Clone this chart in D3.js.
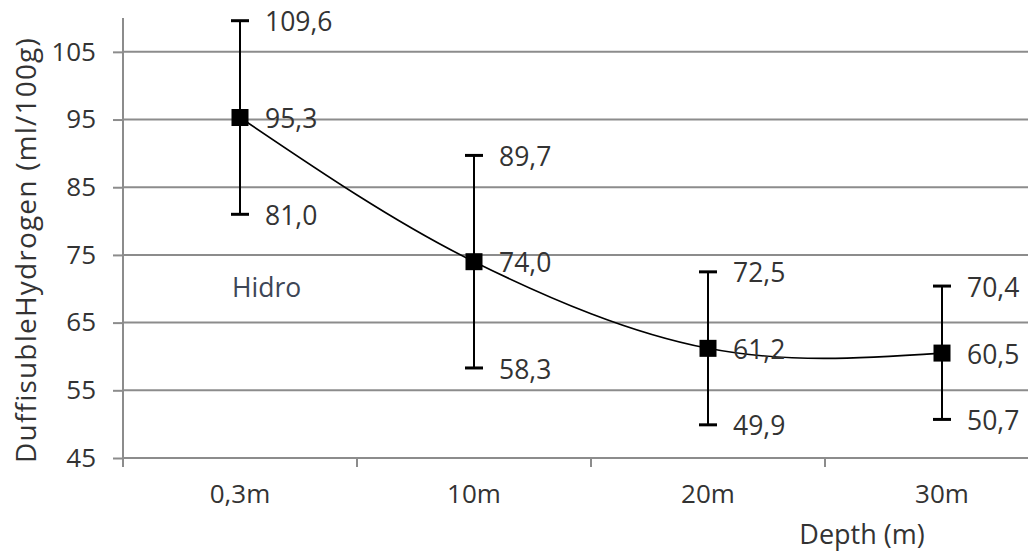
<!DOCTYPE html>
<html>
<head>
<meta charset="utf-8">
<script src="https://cdn.jsdelivr.net/npm/d3@7"></script>
<style>
  html, body { margin: 0; padding: 0; background: #fff; }
  svg text { font-family: "Open Sans", sans-serif; fill: #333; }
</style>
</head>
<body>
<svg id="chart" width="1028" height="554"></svg>
<script>
// Diffusible hydrogen by depth: mean with min/max range
const depths = ["0,3m", "10m", "20m", "30m"];
const meanValues = [95.3, 74.0, 61.2, 60.5];
const upperValues = [109.6, 89.7, 72.5, 70.4];
const lowerValues = [81.0, 58.3, 49.9, 50.7];
const yTicks = [45, 55, 65, 75, 85, 95, 105];

const svg = d3.select("#chart");
const plot = { left: 123, right: 1059, top: 18, bottom: 458 };

const x = d3.scaleBand().domain(depths).range([plot.left, plot.right]);
const y = d3.scaleLinear().domain([45, 110]).range([plot.bottom, plot.top]);
const cx = d => x(d) + x.bandwidth() / 2;
const fmt = v => d3.format(".1f")(v).replace(".", ",");

const gridColor = "#8c8c8c";
const labelSize = 26.5;

// Smooth spline: Catmull-Rom tangents inside, free (zero curvature) ends
function smoothCurve(context) {
  let pts = [];
  return {
    areaStart() {}, areaEnd() {},
    lineStart() { pts = []; },
    point(px, py) { pts.push([+px, +py]); },
    lineEnd() {
      const n = pts.length;
      if (!n) return;
      context.moveTo(pts[0][0], pts[0][1]);
      if (n === 1) return;
      if (n === 2) { context.lineTo(pts[1][0], pts[1][1]); return; }
      const m = pts.map(() => [0, 0]);
      for (let i = 1; i < n - 1; i++) {
        m[i] = [0.5 * (pts[i + 1][0] - pts[i - 1][0]), 0.5 * (pts[i + 1][1] - pts[i - 1][1])];
      }
      for (const k of [0, 1]) {
        m[0][k] = 1.5 * (pts[1][k] - pts[0][k]) - 0.5 * m[1][k];
        m[n - 1][k] = 1.5 * (pts[n - 1][k] - pts[n - 2][k]) - 0.5 * m[n - 2][k];
      }
      for (let i = 0; i < n - 1; i++) {
        context.bezierCurveTo(
          pts[i][0] + m[i][0] / 3, pts[i][1] + m[i][1] / 3,
          pts[i + 1][0] - m[i + 1][0] / 3, pts[i + 1][1] - m[i + 1][1] / 3,
          pts[i + 1][0], pts[i + 1][1]);
      }
    }
  };
}

// horizontal gridlines
svg.append("g")
  .selectAll("line")
  .data(yTicks)
  .join("line")
  .attr("x1", plot.left).attr("x2", plot.right)
  .attr("y1", d => y(d)).attr("y2", d => y(d))
  .attr("stroke", gridColor).attr("stroke-width", 2);

// y axis
const yAxis = svg.append("g")
  .attr("transform", `translate(${plot.left},0)`)
  .call(d3.axisLeft(y).tickValues(yTicks).tickSize(10).tickPadding(17));
yAxis.select(".domain").attr("stroke", gridColor).attr("stroke-width", 2)
  .attr("d", `M0,${plot.top}V${plot.bottom + 9}`);
yAxis.selectAll(".tick line").attr("stroke", gridColor).attr("stroke-width", 2);
yAxis.selectAll(".tick text").attr("font-size", 26).attr("fill", "#333")
  .style("font-family", "'Open Sans', sans-serif");

// x axis
const xAxis = svg.append("g")
  .attr("transform", `translate(0,${plot.bottom})`)
  .call(d3.axisBottom(x).tickSize(0).tickPadding(27));
xAxis.select(".domain").remove();
xAxis.selectAll(".tick text").attr("font-size", 26).attr("fill", "#333")
  .style("font-family", "'Open Sans', sans-serif");
// tick marks at band boundaries
svg.append("g")
  .selectAll("line")
  .data(depths)
  .join("line")
  .attr("x1", d => x(d)).attr("x2", d => x(d))
  .attr("y1", plot.bottom).attr("y2", plot.bottom + 9)
  .attr("stroke", gridColor).attr("stroke-width", 2);

// smoothed mean line
svg.append("path")
  .datum(meanValues)
  .attr("fill", "none")
  .attr("stroke", "#000")
  .attr("stroke-width", 1.6)
  .attr("d", d3.line()
    .x((d, i) => cx(depths[i]))
    .y(d => y(d))
    .curve(smoothCurve));

// error bars
const bars = svg.append("g").selectAll("g")
  .data(depths)
  .join("g");
bars.append("line")
  .attr("x1", d => cx(d)).attr("x2", d => cx(d))
  .attr("y1", (d, i) => y(upperValues[i])).attr("y2", (d, i) => y(lowerValues[i]))
  .attr("stroke", "#000").attr("stroke-width", 2);
bars.append("line")
  .attr("x1", d => cx(d) - 9).attr("x2", d => cx(d) + 9)
  .attr("y1", (d, i) => y(upperValues[i])).attr("y2", (d, i) => y(upperValues[i]))
  .attr("stroke", "#000").attr("stroke-width", 3);
bars.append("line")
  .attr("x1", d => cx(d) - 9).attr("x2", d => cx(d) + 9)
  .attr("y1", (d, i) => y(lowerValues[i])).attr("y2", (d, i) => y(lowerValues[i]))
  .attr("stroke", "#000").attr("stroke-width", 3);

// square markers
bars.append("rect")
  .attr("x", d => cx(d) - 8.5)
  .attr("y", (d, i) => y(meanValues[i]) - 8.5)
  .attr("width", 17).attr("height", 17)
  .attr("fill", "#000");

// value labels
const labelSets = [upperValues, meanValues, lowerValues];
labelSets.forEach(vals => {
  svg.append("g").selectAll("text")
    .data(vals)
    .join("text")
    .attr("x", (d, i) => cx(depths[i]) + 25)
    .attr("y", d => y(d))
    .attr("dy", "0.4em")
    .attr("font-size", labelSize)
    .text(d => fmt(d));
});

// series name
svg.append("text")
  .attr("x", 232).attr("y", 288).attr("dy", "0.35em")
  .attr("font-size", labelSize)
  .style("fill", "#3d4656")
  .text("Hidro");

// axis titles
svg.append("text")
  .attr("transform", "translate(26,250) rotate(-90)")
  .attr("text-anchor", "middle")
  .attr("dy", "0.35em")
  .attr("font-size", 28)
  .attr("letter-spacing", 1.2)
  .text("DuffisubleHydrogen (ml/100g)");

svg.append("text")
  .attr("x", 862).attr("y", 535)
  .attr("text-anchor", "middle")
  .attr("dy", "0.35em")
  .attr("font-size", 27)
  .text("Depth (m)");
</script>
</body>
</html>
